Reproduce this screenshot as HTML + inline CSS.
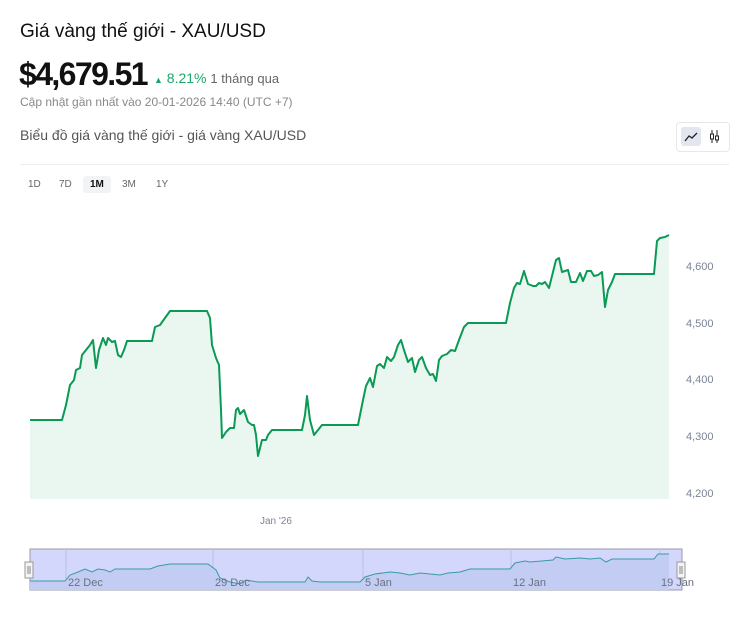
<!DOCTYPE html>
<html><head><meta charset="utf-8"><style>
body{margin:0;background:#fff;width:750px;height:634px;overflow:hidden;font-family:"Liberation Sans",sans-serif;position:relative}
.a{position:absolute;white-space:nowrap}
</style></head><body>
<div class="a" style="left:20px;top:21px;font-size:19px;color:#111">Giá vàng thế giới - XAU/USD</div>
<div class="a" style="left:19px;top:56px;font-size:32px;font-weight:bold;color:#111;letter-spacing:-1.6px">$4,679.51</div>
<div class="a" style="left:154px;top:70px;font-size:14px;color:#1aa86a"><span style="font-size:9px">▲</span> 8.21% <span style="color:#666;font-size:13px">1 tháng qua</span></div>
<div class="a" style="left:20px;top:95px;font-size:12px;color:#888">Cập nhật gần nhất vào 20-01-2026 14:40 (UTC +7)</div>
<div class="a" style="left:20px;top:127px;font-size:14px;color:#555">Biểu đồ giá vàng thế giới - giá vàng XAU/USD</div>
<div class="a" style="left:676px;top:122px;width:52px;height:28px;border:1px solid #e5e7eb;border-radius:4px"></div>
<div class="a" style="left:681px;top:127px;width:20px;height:19px;background:#e3e6ee;border-radius:3px"></div>
<svg class="a" style="left:683px;top:130px" width="40" height="14"><polyline points="2,11 6,6 9,8 14,3" fill="none" stroke="#222" stroke-width="1.3"/><g stroke="#222" fill="none" stroke-width="1"><line x1="29" y1="0" x2="29" y2="13"/><rect x="27.5" y="4" width="3" height="5" fill="#fff"/><line x1="34" y1="0" x2="34" y2="13"/><rect x="32.5" y="6" width="3" height="4" fill="#fff"/></g></svg>
<div class="a" style="left:20px;top:164px;width:709px;height:1px;background:#eceef2"></div>
<div class="a" style="left:83px;top:176px;width:28px;height:17px;background:#f2f3f5;border-radius:3px"></div>
<div class="a" style="left:28px;top:179px;font-size:10px;color:#666">1D</div>
<div class="a" style="left:59px;top:179px;font-size:10px;color:#666">7D</div>
<div class="a" style="left:90px;top:179px;font-size:10px;color:#111;font-weight:bold">1M</div>
<div class="a" style="left:122px;top:179px;font-size:10px;color:#666">3M</div>
<div class="a" style="left:156px;top:179px;font-size:10px;color:#666">1Y</div>
<svg class="a" style="left:0;top:0" width="750" height="634">
<polygon fill="#eaf7f0" points="30,499 30,420 62,420 66,405 70,385 74,380 76,370 80,368 82,355 86,350 90,345 93,340 96,368 99,350 103,338 106,345 108,338 112,342 115,341 118,355 121,357 124,350 127,341 152,341 155,327 160,325 165,318 170,311 207,311 210,318 212,345 216,358 219,365 221,410 222,438 226,432 230,428 234,428 236,410 238,408 240,414 244,410 248,422 252,425 254,425 256,435 258,456 262,440 266,440 268,435 272,430 302,430 305,415 307,396 310,420 314,435 318,430 322,425 358,425 363,400 366,386 370,378 373,387 377,366 380,364 384,368 387,357 391,361 394,357 398,345 401,340 404,350 408,362 412,358 415,372 419,360 422,357 426,368 430,375 433,374 436,381 439,360 442,356 447,354 451,350 455,351 459,340 464,327 468,323 506,323 510,303 514,288 517,283 520,284 524,271 528,284 533,286 536,286 539,283 542,284 545,282 549,288 553,272 556,260 559,258 562,272 568,270 571,282 576,282 580,273 583,281 587,271 591,271 594,276 598,275 602,272 605,307 608,290 612,282 615,274 654,274 657,241 660,238 665,237 669,235 669,499"/>
<polyline fill="none" stroke="#0a9a55" stroke-width="2" stroke-linejoin="round" points="30,420 62,420 66,405 70,385 74,380 76,370 80,368 82,355 86,350 90,345 93,340 96,368 99,350 103,338 106,345 108,338 112,342 115,341 118,355 121,357 124,350 127,341 152,341 155,327 160,325 165,318 170,311 207,311 210,318 212,345 216,358 219,365 221,410 222,438 226,432 230,428 234,428 236,410 238,408 240,414 244,410 248,422 252,425 254,425 256,435 258,456 262,440 266,440 268,435 272,430 302,430 305,415 307,396 310,420 314,435 318,430 322,425 358,425 363,400 366,386 370,378 373,387 377,366 380,364 384,368 387,357 391,361 394,357 398,345 401,340 404,350 408,362 412,358 415,372 419,360 422,357 426,368 430,375 433,374 436,381 439,360 442,356 447,354 451,350 455,351 459,340 464,327 468,323 506,323 510,303 514,288 517,283 520,284 524,271 528,284 533,286 536,286 539,283 542,284 545,282 549,288 553,272 556,260 559,258 562,272 568,270 571,282 576,282 580,273 583,281 587,271 591,271 594,276 598,275 602,272 605,307 608,290 612,282 615,274 654,274 657,241 660,238 665,237 669,235"/>
<g font-size="11" fill="#7a8496" font-family="Liberation Sans,sans-serif">
<text x="686" y="270">4,600</text><text x="686" y="327">4,500</text><text x="686" y="383">4,400</text><text x="686" y="440">4,300</text><text x="686" y="497">4,200</text>
<text x="260" y="524" font-size="10">Jan '26</text>
</g>
<rect x="30" y="549" width="652" height="41" fill="#d3d7fc" stroke="#9a9aa8" stroke-width="1"/>
<g stroke="#b9bfe8" stroke-width="1"><line x1="66" y1="549" x2="66" y2="590"/><line x1="213" y1="549" x2="213" y2="590"/><line x1="363" y1="549" x2="363" y2="590"/><line x1="511" y1="549" x2="511" y2="590"/><line x1="660" y1="549" x2="660" y2="590"/></g>
<polygon fill="#c3cdf3" points="30,590 30,581 65,581 70,575 78,572 85,569 92,572 98,569 105,570 110,572 115,569 150,569 158,566 170,564 208,564 216,570 220,578 230,582 240,584 246,580 258,582 305,582 308,577 312,581 320,582 360,582 365,577 375,574 390,572 400,573 410,575 420,573 430,574 440,575 448,573 460,572 470,569 510,569 515,563 525,561 530,562 553,560 556,557 565,559 580,558 590,559 600,558 606,562 612,559 654,559 658,554 669,554 669,590"/>
<polyline fill="none" stroke="#3a9aa5" stroke-width="1" points="30,581 65,581 70,575 78,572 85,569 92,572 98,569 105,570 110,572 115,569 150,569 158,566 170,564 208,564 216,570 220,578 230,582 240,584 246,580 258,582 305,582 308,577 312,581 320,582 360,582 365,577 375,574 390,572 400,573 410,575 420,573 430,574 440,575 448,573 460,572 470,569 510,569 515,563 525,561 530,562 553,560 556,557 565,559 580,558 590,559 600,558 606,562 612,559 654,559 658,554 669,554"/>
<g font-size="11" fill="#6a7080" font-family="Liberation Sans,sans-serif"><text x="68" y="586">22 Dec</text><text x="215" y="586">29 Dec</text><text x="365" y="586">5 Jan</text><text x="513" y="586">12 Jan</text><text x="661" y="586">19 Jan</text></g>
<rect x="25" y="562" width="8" height="16" fill="#f4f4f4" stroke="#999"/><line x1="28" y1="566" x2="28" y2="574" stroke="#888"/><line x1="30" y1="566" x2="30" y2="574" stroke="#888"/>
<rect x="677" y="562" width="8" height="16" fill="#f4f4f4" stroke="#999"/><line x1="680" y1="566" x2="680" y2="574" stroke="#888"/><line x1="682" y1="566" x2="682" y2="574" stroke="#888"/>
</svg>
</body></html>
